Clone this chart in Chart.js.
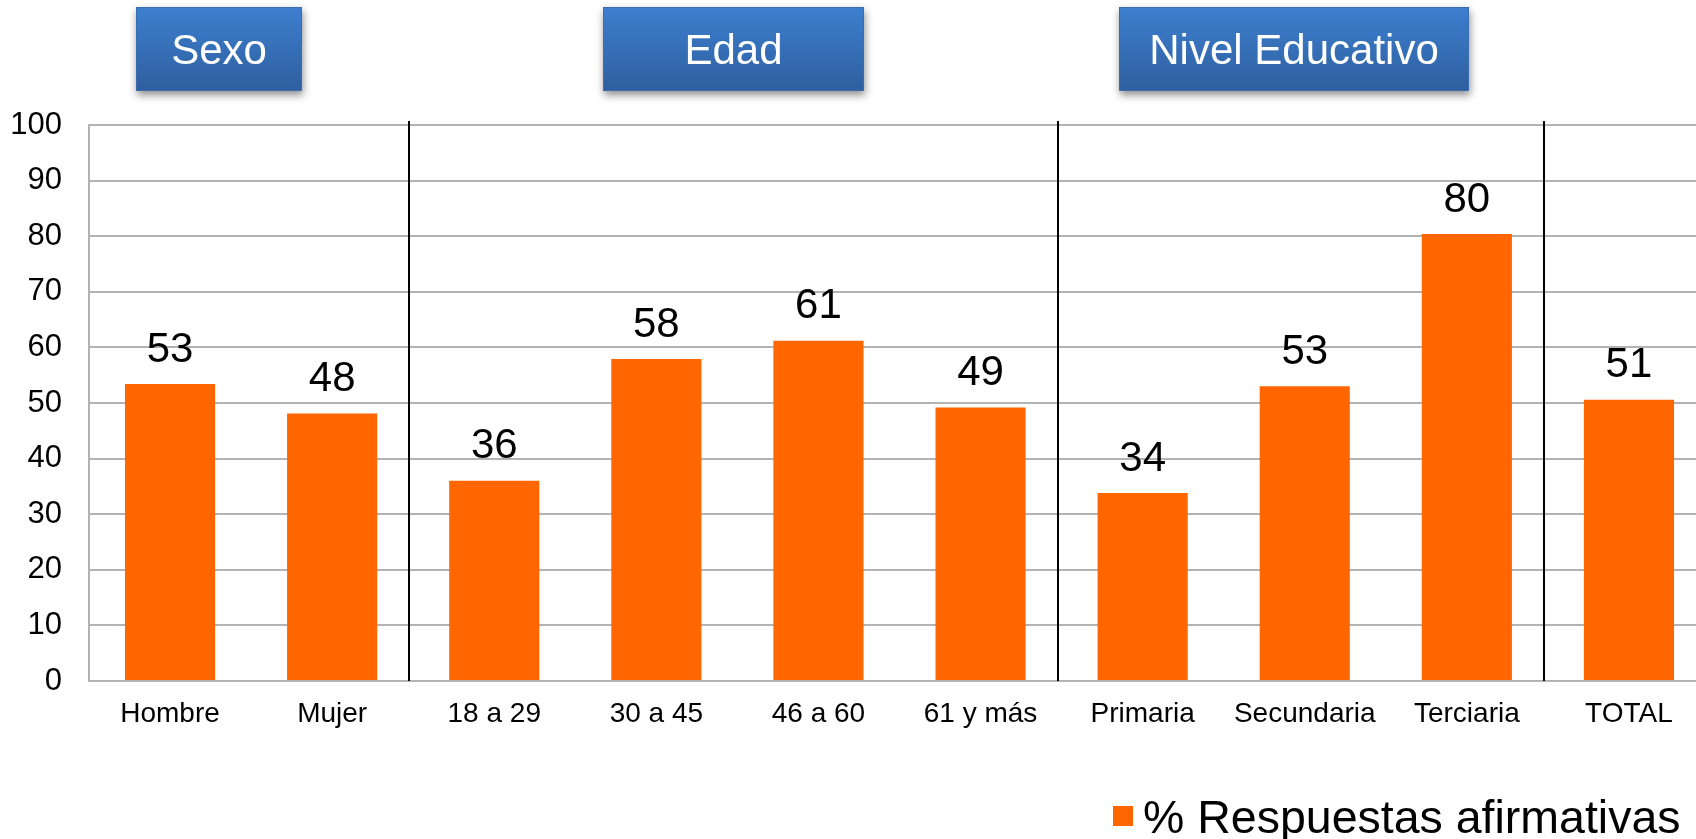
<!DOCTYPE html>
<html>
<head>
<meta charset="utf-8">
<script src="https://cdn.jsdelivr.net/npm/chart.js@4/dist/chart.umd.min.js"></script>
<style>
html,body{margin:0;padding:0;overflow:hidden;background:#fff;width:1696px;height:839px;}
canvas{display:block;}
</style>
</head>
<body>
<canvas id="c" width="1710" height="839"></canvas>
<script>
const categories = ["Hombre","Mujer","18 a 29","30 a 45","46 a 60","61 y más","Primaria","Secundaria","Terciaria","TOTAL"];
const values = [53.4, 48.1, 36.0, 57.9, 61.2, 49.2, 33.8, 53.0, 80.4, 50.6];
const seriesLabel = "% Respuestas afirmativas";
const groupTitles = ["Sexo","Edad","Nivel Educativo"];
const groupBreaks = [1, 5, 8]; // separator after these category indices
const yTicks = [0,10,20,30,40,50,60,70,80,90,100];

const FONT = "'Liberation Sans', Arial, Helvetica, sans-serif";
const ORANGE = "#ff6600";

const decor = {
  id: 'decor',
  afterDatasetsDraw(chart) {
    const ctx = chart.ctx;
    const x = chart.scales.x;
    const ca = chart.chartArea;
    // group separators
    ctx.save();
    ctx.strokeStyle = '#000';
    ctx.lineWidth = 2;
    groupBreaks.forEach(i => {
      const px = Math.round((x.getPixelForValue(i) + x.getPixelForValue(i + 1)) / 2 - 4);
      ctx.beginPath();
      ctx.moveTo(px, ca.top - 4);
      ctx.lineTo(px, ca.bottom);
      ctx.stroke();
    });
    ctx.restore();
    // data labels
    const meta = chart.getDatasetMeta(0);
    ctx.save();
    ctx.fillStyle = '#000';
    ctx.font = "42px " + FONT;
    ctx.textAlign = 'center';
    ctx.textBaseline = 'middle';
    meta.data.forEach((bar, i) => {
      ctx.fillText(String(Math.round(values[i])), bar.x, bar.y - 34);
    });
    ctx.restore();
  },
  afterDraw(chart) {
    const ctx = chart.ctx;
    // group title boxes
    const boxes = [
      {x: 136, w: 166},
      {x: 603, w: 261},
      {x: 1119, w: 350}
    ];
    boxes.forEach((b, i) => {
      ctx.save();
      ctx.shadowColor = 'rgba(0,0,0,0.45)';
      ctx.shadowBlur = 8;
      ctx.shadowOffsetX = 1;
      ctx.shadowOffsetY = 4;
      const g = ctx.createLinearGradient(0, 7, 0, 91);
      g.addColorStop(0, '#3d7fcf');
      g.addColorStop(1, '#2e5f9f');
      ctx.fillStyle = g;
      ctx.fillRect(b.x, 7, b.w, 84);
      ctx.restore();
      ctx.save();
      ctx.strokeStyle = '#3a6db0';
      ctx.lineWidth = 1;
      ctx.strokeRect(b.x + 0.5, 7.5, b.w - 1, 83);
      ctx.fillStyle = '#fff';
      ctx.font = "42px " + FONT;
      ctx.textAlign = 'center';
      ctx.textBaseline = 'middle';
      ctx.fillText(groupTitles[i], b.x + b.w / 2, 52);
      ctx.restore();
    });
    // legend
    ctx.save();
    ctx.fillStyle = ORANGE;
    ctx.fillRect(1113, 806, 20, 20);
    ctx.fillStyle = '#000';
    ctx.font = "46.5px " + FONT;
    ctx.textAlign = 'left';
    ctx.textBaseline = 'alphabetic';
    ctx.fillText(chart.data.datasets[0].label, 1143, 833);
    ctx.restore();
  }
};

new Chart(document.getElementById('c'), {
  type: 'bar',
  data: {
    labels: categories,
    datasets: [{
      label: seriesLabel,
      data: values,
      backgroundColor: ORANGE,
      borderWidth: 0,
      barPercentage: 0.556,
      categoryPercentage: 1.0
    }]
  },
  options: {
    responsive: false,
    animation: false,
    layout: { padding: { top: 125, left: 0, right: 0, bottom: 0 } },
    plugins: {
      legend: { display: false },
      tooltip: { enabled: false }
    },
    scales: {
      x: {
        grid: { display: false, drawTicks: false },
        border: { display: true, color: '#b3b3b3', width: 2 },
        ticks: {
          color: '#000',
          font: { family: FONT, size: 28 },
          padding: 16,
          maxRotation: 0,
          autoSkip: false
        },
        afterFit(scale) { scale.height = 158; }
      },
      y: {
        min: 0,
        max: 100,
        afterBuildTicks(scale) { scale.ticks = yTicks.map(v => ({ value: v })); },
        grid: { color: '#b3b3b3', lineWidth: 2, drawTicks: false },
        border: { display: true, color: '#b3b3b3', width: 2 },
        ticks: {
          color: '#000',
          font: { family: FONT, size: 31 },
          padding: 27
        },
        afterFit(scale) { scale.width = 89; }
      }
    }
  },
  plugins: [decor]
});
</script>
</body>
</html>
